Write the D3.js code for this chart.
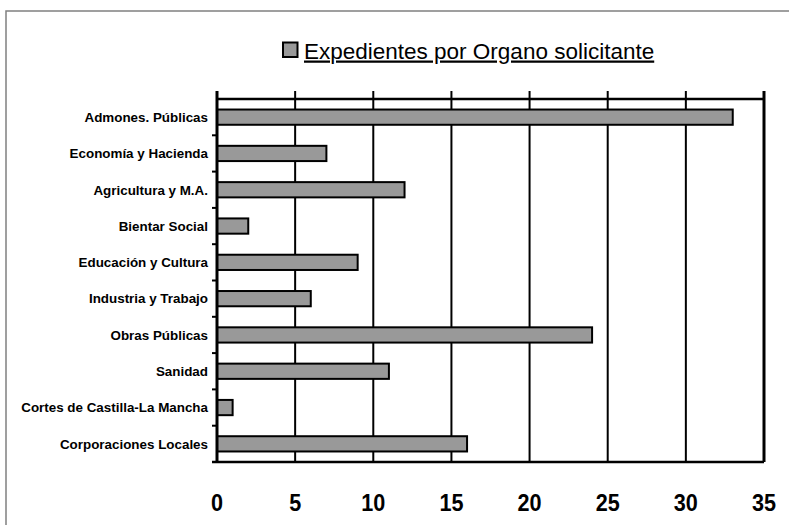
<!DOCTYPE html>
<html><head><meta charset="utf-8">
<script src="https://cdn.jsdelivr.net/npm/d3@7"></script>
<style>
html,body{margin:0;padding:0;background:#fff;}
svg{display:block;font-family:"Liberation Sans",Arial,sans-serif;}
</style></head>
<body>
<svg id="chart" width="789" height="525"></svg>
<script>
const categories = ["Admones. Públicas","Economía y Hacienda","Agricultura y M.A.","Bientar Social","Educación y Cultura","Industria y Trabajo","Obras Públicas","Sanidad","Cortes de Castilla-La Mancha","Corporaciones Locales"];
const values = [33,7,12,2,9,6,24,11,1,16];
const tickValues = [0,5,10,15,20,25,30,35];
const seriesName = "Expedientes por Organo solicitante";

const svg = d3.select("#chart");
const pLeft = 217, pRight = 764, pTop = 99, pBottom = 462;

// outer frame
svg.append("rect").attr("x",6).attr("y",11).attr("width",800).attr("height",530)
  .attr("fill","none").attr("stroke","#808080").attr("stroke-width",1.5);

const x = d3.scaleLinear().domain([0,35]).range([pLeft,pRight]);
const y = d3.scaleBand().domain(categories).range([pTop,pBottom]).paddingInner(0.58).paddingOuter(0.29);

// vertical gridlines with ticks above top
svg.append("g").selectAll("line").data(tickValues.slice(1)).join("line")
  .attr("x1",d=>x(d)).attr("x2",d=>x(d)).attr("y1",pTop-8).attr("y2",pBottom)
  .attr("stroke","#000").attr("stroke-width",d=>d===35?3:2);
// top axis line
svg.append("line").attr("x1",pLeft).attr("x2",pRight).attr("y1",pTop).attr("y2",pTop)
  .attr("stroke","#000").attr("stroke-width",2.5);
// bottom line
svg.append("line").attr("x1",pLeft-5).attr("x2",pRight).attr("y1",pBottom).attr("y2",pBottom)
  .attr("stroke","#000").attr("stroke-width",2.5);

// bars
svg.append("g").selectAll("rect").data(values).join("rect")
  .attr("x",x(0)).attr("y",(d,i)=>y(categories[i]))
  .attr("width",d=>x(d)-x(0)).attr("height",y.bandwidth())
  .attr("fill","#999999").attr("stroke","#000").attr("stroke-width",2);

// left axis line with ticks at band boundaries
svg.append("line").attr("x1",pLeft).attr("x2",pLeft).attr("y1",pTop-8).attr("y2",pBottom)
  .attr("stroke","#000").attr("stroke-width",3);
const bounds = categories.map((c,i)=>pTop + i*y.step()).concat([pBottom]);
svg.append("g").selectAll("line").data(bounds.slice(1,-1)).join("line")
  .attr("x1",pLeft-5).attr("x2",pLeft).attr("y1",d=>d).attr("y2",d=>d)
  .attr("stroke","#000").attr("stroke-width",2);

// category labels
svg.append("g").selectAll("text").data(categories).join("text")
  .attr("x",pLeft-9).attr("y",d=>y(d)+y.bandwidth()/2)
  .attr("dy","0.36em").attr("text-anchor","end")
  .attr("font-size",13.4).attr("font-weight","bold").attr("fill","#000").text(d=>d);

// x tick labels
svg.append("g").selectAll("text").data(tickValues).join("text")
  .attr("transform",d=>`translate(${x(d)},511) scale(0.9,1)`)
  .attr("text-anchor","middle")
  .attr("font-size",24).attr("font-weight","bold").attr("fill","#000").text(d=>d);

// legend
svg.append("rect").attr("x",283).attr("y",42.5).attr("width",14.5).attr("height",14.5)
  .attr("fill","#999999").attr("stroke","#000").attr("stroke-width",2);
svg.append("text").attr("x",304).attr("y",58.5).attr("font-size",22.5)
  .attr("text-decoration","underline").attr("fill","#000").text(seriesName);
</script>
</body></html>
